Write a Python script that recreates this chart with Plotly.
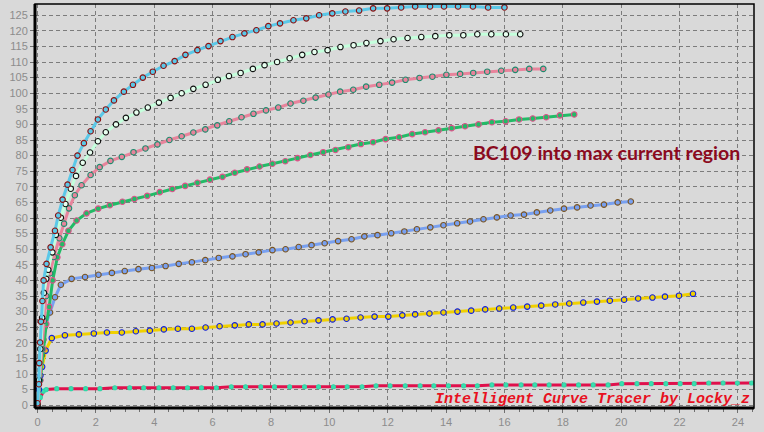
import plotly.graph_objects as go

# ---- data (Vce in V, Ic in mA) ----
cyan_x = [0, 0.05, 0.06, 0.09, 0.12, 0.17, 0.21, 0.31, 0.45, 0.6, 0.71, 0.86, 1.03, 1.2, 1.37, 1.59,
          1.82, 2.07, 2.34, 2.62, 2.96, 3.27, 3.61, 3.95, 4.32, 4.7, 5.07, 5.48, 5.86, 6.27, 6.68,
          7.09, 7.5, 7.91, 8.31, 8.77, 9.21, 9.65, 10.1, 10.55, 11.02, 11.5, 11.98, 12.46, 12.94,
          13.45, 13.93, 14.41, 14.92, 15.44, 16.0]
cyan_y = [0.6, 6.7, 13.5, 20.1, 26.8, 33.4, 40.0, 45.3, 50.6, 55.9, 60.8, 65.9, 70.7, 75.4, 80.0, 84.0,
          87.8, 91.6, 94.8, 97.7, 100.5, 102.7, 105.0, 106.9, 108.8, 110.3, 112.3, 113.8, 115.1, 116.7,
          118.0, 119.2, 120.2, 121.5, 122.4, 123.4, 124.0, 125.0, 125.6, 126.2, 126.5, 127.2, 127.2,
          127.5, 127.8, 127.8, 127.8, 127.8, 127.8, 127.5, 127.5]

mint_x = [0, 0.05, 0.1, 0.16, 0.22, 0.3, 0.37, 0.51, 0.63, 0.8, 0.96, 1.14, 1.32, 1.55, 1.8, 2.07, 2.34,
          2.69, 3.03, 3.39, 3.78, 4.16, 4.56, 4.94, 5.34, 5.76, 6.18, 6.56, 6.96, 7.38, 7.78, 8.21,
          8.64, 9.07, 9.49, 9.94, 10.38, 10.83, 11.27, 11.75, 12.2, 12.68, 13.15, 13.63, 14.11, 14.59,
          15.07, 15.55, 16.05, 16.54]
mint_y = [0, 8, 18, 28, 36, 40.5, 43.4, 49.0, 54.6, 60.1, 64.5, 69.4, 73.5, 77.7, 81.0, 84.6, 87.5,
          90.0, 92.1, 93.8, 95.4, 97.0, 98.5, 100.0, 101.4, 102.7, 104.3, 105.5, 106.5, 107.8, 109.0,
          110.0, 111.2, 112.3, 113.2, 113.8, 114.8, 115.4, 116.1, 116.7, 117.3, 117.7, 118.0, 118.3,
          118.6, 118.6, 118.9, 118.9, 118.9, 118.9]

pink_x = [0, 0.08, 0.15, 0.22, 0.3, 0.43, 0.56, 0.75, 0.91, 1.08, 1.28, 1.51, 1.82, 2.13, 2.5, 2.89,
          3.29, 3.7, 4.11, 4.52, 4.94, 5.34, 5.75, 6.16, 6.57, 6.99, 7.4, 7.83, 8.25, 8.67, 9.11, 9.53,
          9.97, 10.37, 10.82, 11.26, 11.71, 12.15, 12.61, 13.09, 13.53, 14.01, 14.48, 14.93, 15.41,
          15.89, 16.37, 16.85, 17.33]
pink_y = [0, 8, 18, 27, 35, 42.3, 47.5, 53.5, 58.2, 63.1, 67.3, 70.5, 73.8, 76.3, 78.3, 79.6, 81.1,
          82.3, 83.6, 85.0, 86.2, 87.4, 88.4, 89.7, 91.0, 92.3, 93.4, 94.5, 95.4, 96.7, 97.6, 98.6,
          99.6, 100.5, 101.1, 102.1, 102.7, 103.4, 104.3, 104.9, 105.3, 105.9, 106.2, 106.5, 106.9,
          107.2, 107.5, 107.8, 107.8]

green_x = [0, 0.1, 0.2, 0.3, 0.4, 0.52, 0.68, 0.85, 1.06, 1.34, 1.68, 2.08, 2.48, 2.91, 3.32, 3.76,
           4.19, 4.62, 5.06, 5.48, 5.91, 6.34, 6.76, 7.18, 7.61, 8.05, 8.49, 8.91, 9.35, 9.79, 10.21,
           10.65, 11.08, 11.5, 11.93, 12.39, 12.84, 13.28, 13.74, 14.19, 14.65, 15.11, 15.57, 16.04,
           16.5, 16.97, 17.43, 17.9, 18.39]
green_y = [0, 8, 18, 26, 31.5, 40, 47.4, 51.6, 55.9, 59.2, 61.5, 63.0, 64.1, 65.2, 66.1, 67.1, 68.3,
           69.3, 70.3, 71.3, 72.3, 73.2, 74.5, 75.6, 76.5, 77.4, 78.2, 79.2, 80.2, 81.1, 81.8, 82.7,
           83.7, 84.3, 85.3, 85.9, 86.9, 87.5, 88.1, 88.8, 89.4, 90.0, 90.7, 91.0, 91.6, 91.9, 92.3,
           92.9, 93.2]

blue_x = [0, 0.08, 0.15, 0.2, 0.25, 0.43, 0.6, 0.8, 1.17, 1.63, 2.09, 2.55, 2.99, 3.46, 3.92, 4.39,
          4.84, 5.29, 5.75, 6.21, 6.68, 7.13, 7.58, 8.05, 8.5, 8.95, 9.39, 9.84, 10.3, 10.76, 11.2,
          11.65, 12.12, 12.57, 13.0, 13.46, 13.91, 14.38, 14.82, 15.28, 15.74, 16.21, 16.67, 17.11,
          17.57, 18.04, 18.49, 18.95, 19.41, 19.88, 20.33]
blue_y = [0, 8, 16, 21, 25.2, 29.7, 34.6, 38.6, 40.5, 41.1, 41.8, 42.4, 43.0, 43.6, 44.0, 44.6, 45.3,
          45.8, 46.5, 47.2, 47.7, 48.4, 49.0, 49.7, 50.0, 50.7, 51.3, 51.9, 52.6, 53.2, 54.1, 54.5,
          55.1, 55.7, 56.4, 57.0, 57.7, 58.3, 58.9, 59.6, 60.2, 60.8, 61.1, 61.8, 62.4, 63.0, 63.4,
          64.0, 64.3, 65.0, 65.3]

yellow_x = [0, 0.05, 0.1, 0.16, 0.28, 0.49, 0.94, 1.42, 1.93, 2.38, 2.89, 3.37, 3.85, 4.33, 4.81, 5.29,
            5.76, 6.24, 6.76, 7.24, 7.71, 8.19, 8.67, 9.15, 9.63, 10.11, 10.59, 11.07, 11.55, 12.02,
            12.5, 12.94, 13.43, 13.91, 14.39, 14.86, 15.34, 15.82, 16.3, 16.78, 17.26, 17.74, 18.22,
            18.7, 19.17, 19.61, 20.1, 20.58, 21.07, 21.5, 21.98, 22.46]
yellow_y = [0, 5, 9.5, 12.3, 17.5, 21.5, 22.4, 22.7, 23.0, 23.3, 23.3, 23.7, 23.9, 24.3, 24.5, 24.5,
            24.9, 25.3, 25.6, 25.9, 25.9, 26.2, 26.5, 26.9, 27.2, 27.5, 27.7, 28.1, 28.4, 28.4, 28.8,
            29.1, 29.4, 29.7, 30.0, 30.3, 30.7, 31.0, 31.3, 31.6, 31.9, 32.3, 32.6, 32.9, 33.2, 33.5,
            33.8, 34.2, 34.5, 34.8, 35.1, 35.7]

red_x = [0, 0.1, 0.2, 0.3, 0.66, 1.15, 1.65, 2.14, 2.65, 3.16, 3.64, 4.16, 4.65, 5.14, 5.62, 6.13,
         6.64, 7.13, 7.65, 8.12, 8.64, 9.15, 9.63, 10.14, 10.61, 11.12, 11.6, 12.08, 12.6, 13.11,
         13.58, 14.08, 14.6, 15.07, 15.57, 16.05, 16.57, 17.04, 17.53, 18.04, 18.54, 19.04, 19.55,
         20.02, 20.54, 21.03, 21.53, 22.02, 22.5, 23.0, 23.49, 23.98, 24.47]
red_y = [0, 2.5, 4.5, 5.0, 5.3, 5.3, 5.3, 5.3, 5.6, 5.6, 5.6, 5.6, 5.6, 5.6, 5.6, 5.6, 5.9, 5.9, 5.9,
         5.9, 5.9, 5.9, 5.9, 5.9, 5.9, 5.9, 6.2, 6.2, 6.2, 6.2, 6.2, 6.2, 6.2, 6.2, 6.5, 6.5, 6.5, 6.5,
         6.5, 6.5, 6.5, 6.5, 6.5, 6.9, 6.9, 6.9, 6.9, 6.9, 6.9, 7.1, 7.1, 7.1, 7.1]

x_ticks = list(range(0, 25, 2))
y_ticks = list(range(0, 130, 5))

series = [
    (red_x, red_y, "#E0104C", "#3AE0B0", "#30D8A8", 4),
    (yellow_x, yellow_y, "#F0D000", "#F0D000", "#1020E0", 5.5),
    (blue_x, blue_y, "#78A0F0", "#78A0F0", "#7A5420", 5.5),
    (green_x, green_y, "#22BB66", "#22BB66", "#E0508A", 5.5),
    (pink_x, pink_y, "#E8849C", "#E8849C", "#1E8C6E", 5.5),
    (mint_x, mint_y, "#C4FFDC", "#E8FFF0", "#101010", 5.5),
    (cyan_x, cyan_y, "#5BC8E8", "#5BC8E8", "#8B1010", 5.5),
]

fig = go.Figure()
for xs, ys, lc, mfill, mline, msize in series:
    fig.add_trace(go.Scatter(
        x=xs, y=ys, mode="lines+markers",
        line=dict(color=lc, width=3),
        marker=dict(symbol="circle", size=msize, color=mfill, line=dict(color=mline, width=1.1)),
        showlegend=False, hoverinfo="skip"))

bg = "#D9D9D9"
grid = "#7C7C7C"
tickfont = dict(family="Liberation Sans, Arial, sans-serif", size=11, color="#8C8C8C")

fig.update_layout(
    width=764, height=432,
    margin=dict(l=35, r=10, t=4, b=20),
    paper_bgcolor=bg, plot_bgcolor=bg,
    xaxis=dict(range=[-0.085, 24.55], tickvals=x_ticks, showgrid=True, gridcolor=grid,
               griddash="4px,3px", gridwidth=1, zeroline=False, showline=False,
               ticks="outside", ticklen=4, tickcolor="#707070", tickfont=tickfont,
               minor=dict(dtick=0.5, tick0=0, ticks="outside", ticklen=3, tickcolor="#707070",
                          showgrid=False)),
    yaxis=dict(range=[-0.9, 128.6], tickvals=y_ticks, showgrid=True, gridcolor=grid,
               griddash="4px,3px", gridwidth=1, zeroline=False, showline=False,
               ticks="outside", ticklen=4, tickcolor="#707070", tickfont=tickfont),
    shapes=[
        dict(type="rect", xref="paper", yref="paper", x0=0, x1=1, y0=0, y1=1,
             line=dict(color="black", width=1.5), layer="above"),
        dict(type="line", xref="paper", yref="paper", x0=0, x1=0, y0=0, y1=1,
             line=dict(color="black", width=3), layer="above"),
        dict(type="line", xref="paper", yref="paper", x0=0, x1=1, y0=0, y1=0,
             line=dict(color="black", width=3), layer="above"),
    ],
    annotations=[
        dict(text="<b>BC109 into max current region</b>", xref="paper", yref="paper",
             x=0.9833, y=0.633, xanchor="right", yanchor="middle", showarrow=False,
             font=dict(family="Lato, Open Sans, sans-serif", size=19.5, color="#8B0A1E")),
        dict(text="<b><i>Intelligent Curve Tracer by Locky_z</i></b>", xref="paper", yref="paper",
             x=0.997, y=0.022, xanchor="right", yanchor="middle", showarrow=False,
             font=dict(family="Liberation Mono, Courier New, monospace", size=15, color="#E8101E")),
    ],
)

fig.write_html("out.html", config={"displayModeBar": False},
               post_script="document.body.style.margin='0';document.body.style.padding='0';")
